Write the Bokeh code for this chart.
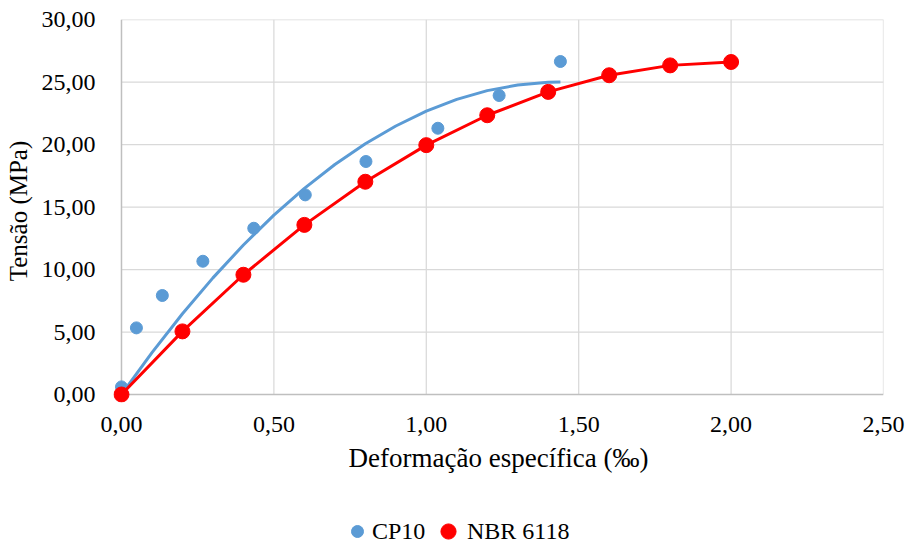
from bokeh.plotting import figure
from bokeh.layouts import column
from bokeh.models import (Range1d, FixedTicker, CustomJSTickFormatter, Legend, LegendItem)
from bokeh.embed import file_html
from bokeh.resources import INLINE

# ---- data ----
cp10_x = [0.00, 0.049, 0.134, 0.267, 0.434, 0.603, 0.802, 1.038, 1.239, 1.44]
cp10_y = [0.61, 5.33, 7.92, 10.66, 13.30, 15.97, 18.64, 21.30, 23.92, 26.64]

# CP10 trend curve
cp10_fit_x = [0.0, 0.1, 0.2, 0.3, 0.4, 0.5, 0.6, 0.7, 0.8, 0.9, 1.0, 1.1, 1.2, 1.3, 1.4, 1.44]
cp10_fit_y = [0.0, 3.35, 6.46, 9.33, 11.96, 14.35, 16.49, 18.40, 20.06, 21.48, 22.67, 23.61, 24.31, 24.76, 24.98, 25.00]

nbr_x = [0.0, 0.2, 0.4, 0.6, 0.8, 1.0, 1.2, 1.4, 1.6, 1.8, 2.0]
nbr_y = [0.0, 5.05, 9.58, 13.57, 17.02, 19.95, 22.34, 24.21, 25.54, 26.33, 26.60]

x_ticks = [0.0, 0.5, 1.0, 1.5, 2.0, 2.5]
y_ticks = [0, 5, 10, 15, 20, 25, 30]
x_title = "Deformação específica (‰)"
y_title = "Tensão (MPa)"
series_names = ["CP10", "NBR 6118"]

FONT = "'Liberation Serif', 'Times New Roman', serif"
BLUE = "#5B9BD5"
RED = "#FF0000"

x_max = x_ticks[-1]
y_max = y_ticks[-1]
x_pad = 0.0262
y_pad = 0.64

p = figure(width=908, height=502, output_backend="svg", toolbar_location=None,
           x_range=Range1d(-x_pad, x_max), y_range=Range1d(-y_pad, y_max),
           min_border_left=113, min_border_right=25, min_border_top=19, min_border_bottom=100)
p.outline_line_color = None
p.grid.visible = False
p.background_fill_color = "white"
p.border_fill_color = "white"

# gridlines
p.segment(x0=x_ticks[1:], y0=[0] * (len(x_ticks) - 1),
          x1=x_ticks[1:], y1=[y_max] * (len(x_ticks) - 1),
          line_color="#D9D9D9", line_width=1.25)
p.segment(x0=[0] * (len(y_ticks) - 1), y0=y_ticks[1:],
          x1=[x_max] * (len(y_ticks) - 1), y1=y_ticks[1:],
          line_color="#D9D9D9", line_width=1.25)
# axis lines
p.segment(x0=[0, 0], y0=[0, 0], x1=[0, x_max], y1=[y_max, 0],
          line_color="#BFBFBF", line_width=1.5)

fmt = CustomJSTickFormatter(code="return tick.toFixed(2).replace('.', ',');")
for ax, ticks in ((p.xaxis[0], x_ticks), (p.yaxis[0], y_ticks)):
    ax.ticker = FixedTicker(ticks=ticks)
    ax.formatter = fmt
    ax.axis_line_color = None
    ax.major_tick_line_color = None
    ax.minor_tick_line_color = None
    ax.major_label_text_font = FONT
    ax.major_label_text_font_size = "24px"
    ax.major_label_text_color = "#000000"
    ax.axis_label_text_font = FONT
    ax.axis_label_text_font_style = "normal"
    ax.axis_label_text_color = "#000000"

p.xaxis.axis_label = x_title
p.yaxis.axis_label = y_title
p.xaxis.axis_label_text_font_size = "27px"
p.yaxis.axis_label_text_font_size = "25px"
p.xaxis.major_label_standoff = 8
p.xaxis.axis_label_standoff = 8
p.yaxis.major_label_standoff = 12
p.yaxis.axis_label_standoff = 7

# series
p.line(cp10_fit_x, cp10_fit_y, line_color=BLUE, line_width=3)
p.scatter(cp10_x, cp10_y, size=12, fill_color=BLUE, line_color=BLUE)
p.line(nbr_x, nbr_y, line_color=RED, line_width=3)
p.scatter(nbr_x, nbr_y, size=15, fill_color=RED, line_color=RED)

# legend strip below the chart (its own frame spans the strip, so nothing is clipped)
lg_fig = figure(width=908, height=41, output_backend="svg", toolbar_location=None,
                x_range=Range1d(-2, -1), y_range=Range1d(-2, -1),
                x_axis_location=None, y_axis_location=None,
                min_border_left=113, min_border_right=25,
                min_border_top=0, min_border_bottom=0)
lg_fig.outline_line_color = None
lg_fig.grid.visible = False
lg_fig.background_fill_color = "white"
lg_fig.border_fill_color = "white"

# same series, out of this strip's view, used only as legend glyph sources
lr_blue = lg_fig.scatter(cp10_x, cp10_y, size=12, fill_color=BLUE, line_color=BLUE)
lr_red = lg_fig.scatter(nbr_x, nbr_y, size=15, fill_color=RED, line_color=RED)

def make_legend(label, renderer, box, loc, standoff):
    lg = Legend(items=[LegendItem(label=label, renderers=[renderer])],
                location=loc, orientation="horizontal",
                glyph_width=box, glyph_height=box, label_standoff=standoff,
                padding=0, margin=0, spacing=0,
                border_line_color=None, background_fill_alpha=0,
                label_text_font=FONT, label_text_font_size="24px",
                label_text_color="#000000")
    lg_fig.add_layout(lg, "center")

make_legend(series_names[0], lr_blue, 30, (229, -3), -13)
make_legend(series_names[1], lr_red, 38, (316, -7), -16)

layout = column(p, lg_fig, spacing=0)
open("out.html", "w").write(file_html(layout, INLINE))
